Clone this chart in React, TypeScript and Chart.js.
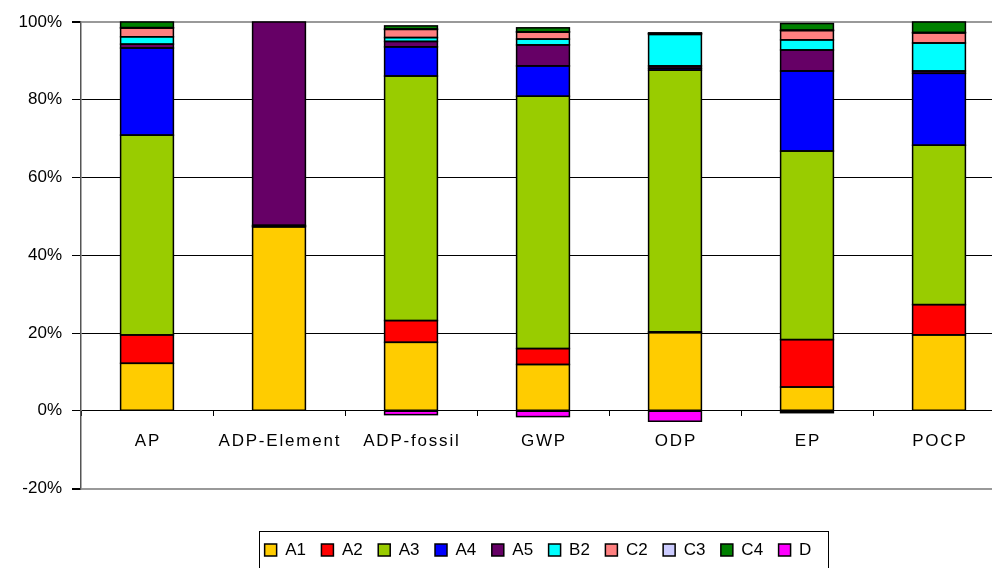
import React, { useEffect, useRef } from 'react';
import { Chart, registerables } from 'chart.js';

Chart.register(...registerables);

const categories = ['AP', 'ADP-Element', 'ADP-fossil', 'GWP', 'ODP', 'EP', 'POCP'];
const seriesNames = ['A1', 'A2', 'A3', 'A4', 'A5', 'B2', 'C2', 'C3', 'C4', 'D'];

const A1 = [12.2, 47.3, 17.6, 11.9, 20.1, 6.1, 19.5];
const A2 = [7.3, 0.2, 5.6, 4.1, 0.2, 12.2, 7.8];
const A3 = [51.4, 0.2, 62.9, 64.9, 67.3, 48.5, 41.0];
const A4 = [22.4, 0, 7.5, 7.8, 0.5, 20.6, 18.5];
const A5 = [1.0, 52.3, 1.4, 5.4, 0.6, 5.4, 0.6];
const B2 = [1.9, 0, 1.0, 1.5, 8.1, 2.6, 7.2];
const C2 = [2.25, 0, 2.1, 1.8, 0.2, 2.4, 2.6];
const C3 = [0.1, 0, 0.1, 0.1, 0.1, 0.1, 0.1];
const C4 = [1.45, 0, 0.8, 1.0, 0.1, 1.7, 2.7];
const D = [0, 0, -1.0, -1.5, -2.7, -0.5, 0];

const seriesValues = [A1, A2, A3, A4, A5, B2, C2, C3, C4, D];
const seriesColors = ['#FFCC00', '#FF0000', '#99CC00', '#0000FF', '#660066', '#00FFFF', '#FF8080', '#CCCCFF', '#008000', '#FF00FF'];

const yMin = -20;
const yMax = 100;
const yStep = 20;

const FONT = "'Liberation Sans', Arial, sans-serif";

const legendShift = {
  id: 'legendShift',
  afterLayout(chart: any) {
    const lg = chart.legend;
    if (!lg) return;
    lg.left -= 5;
    lg.right -= 5;
  },
};

const legendBorder = {
  id: 'legendBorder',
  afterDraw(chart: any) {
    const lg = chart.legend;
    const hb = lg && lg.legendHitBoxes;
    if (!hb || !hb.length) return;
    const first = hb[0];
    const last = hb[hb.length - 1];
    const x1 = Math.round(first.left - 6);
    const x2 = Math.round(last.left + last.width + 17);
    const y1 = Math.round(first.top - 11);
    const ctx = chart.ctx;
    ctx.save();
    ctx.strokeStyle = '#000000';
    ctx.lineWidth = 1;
    ctx.strokeRect(x1 + 0.5, y1 + 0.5, x2 - x1, 70);
    ctx.restore();
  },
};

const barOutlines = {
  id: 'barOutlines',
  afterDatasetsDraw(chart: any) {
    const ctx = chart.ctx;
    ctx.save();
    ctx.strokeStyle = '#000000';
    ctx.lineWidth = 1.5;
    chart.data.datasets.forEach((ds: any, di: number) => {
      const meta = chart.getDatasetMeta(di);
      meta.data.forEach((el: any, i: number) => {
        const v = ds.data[i];
        if (!v) return;
        const { x, y, base, width } = el.getProps(['x', 'y', 'base', 'width'], true);
        const left = x - width / 2;
        const top = Math.min(y, base);
        const h = Math.abs(base - y);
        ctx.strokeRect(left, top, width, h);
      });
    });
    ctx.restore();
  },
};

const categoryLabels = {
  id: 'categoryLabels',
  afterDraw(chart: any) {
    const xs = chart.scales.x;
    const ys = chart.scales.y;
    const ctx = chart.ctx;
    const y0 = ys.getPixelForValue(0);
    ctx.save();
    ctx.fillStyle = '#000000';
    ctx.font = `17px ${FONT}`;
    (ctx as any).letterSpacing = '1.8px';
    ctx.textAlign = 'center';
    ctx.textBaseline = 'middle';
    categories.forEach((c, i) => {
      ctx.fillText(c, xs.getPixelForValue(i) + 0.9, y0 + 31);
    });
    ctx.restore();
  },
};

export default function App() {
  const ref = useRef<HTMLCanvasElement | null>(null);

  useEffect(() => {
    if (!ref.current) return;
    const chart = new Chart(ref.current, {
      type: 'bar',
      data: {
        labels: categories,
        datasets: seriesNames.map((name, i) => ({
          label: name,
          data: seriesValues[i],
          backgroundColor: seriesColors[i],
          borderWidth: 0,
          barPercentage: 0.4,
          categoryPercentage: 1,
        })),
      },
      options: {
        animation: false,
        responsive: false,
        devicePixelRatio: 1,
        layout: { padding: { top: 22, right: 5, bottom: 31.5, left: 0 } },
        plugins: {
          tooltip: { enabled: false },
          legend: {
            position: 'bottom',
            fullSize: false,
            title: { display: true, text: ' ', font: { size: 10, family: FONT }, padding: { top: 25.5, bottom: 0 } },
            labels: {
              boxWidth: 12,
              boxHeight: 12,
              padding: 15.5,
              color: '#000000',
              font: { size: 17, family: FONT },
              generateLabels: (chart: any) =>
                Chart.defaults.plugins.legend.labels.generateLabels(chart).map((l: any) => ({
                  ...l,
                  lineWidth: 1.5,
                  strokeStyle: '#000000',
                })),
            },
          },
        },
        scales: {
          x: {
            type: 'category',
            stacked: true,
            offset: true,
            position: { y: 0 } as any,
            grid: { drawOnChartArea: false, offset: true, tickLength: 5, color: '#000000' },
            border: { display: false },
            ticks: { display: false },
          },
          y: {
            stacked: true,
            min: yMin,
            max: yMax,
            ticks: {
              stepSize: yStep,
              color: '#000000',
              padding: 10,
              font: { size: 17, family: FONT },
              callback: (v: any) => v + '%',
            },
            grid: {
              color: (c: any) => (c.tick && (c.tick.value === yMax || c.tick.value === yMin) ? '#999999' : '#000000'),
              lineWidth: (c: any) => (c.tick && (c.tick.value === yMax || c.tick.value === yMin) ? 2 : 1),
              tickColor: '#000000',
              tickLength: 9,
            },
            border: { color: '#555555', width: 1.5 },
            afterFit: (scale: any) => {
              scale.width = 81;
            },
          },
        },
      },
      plugins: [legendShift, legendBorder, barOutlines, categoryLabels],
    } as any);
    return () => chart.destroy();
  }, []);

  return (
    <div style={{ position: 'fixed', left: 0, top: 0, width: 992, height: 568, overflow: 'hidden', background: '#fff' }}>
      <canvas ref={ref} width={1010} height={600} style={{ display: 'block' }} />
    </div>
  );
}
